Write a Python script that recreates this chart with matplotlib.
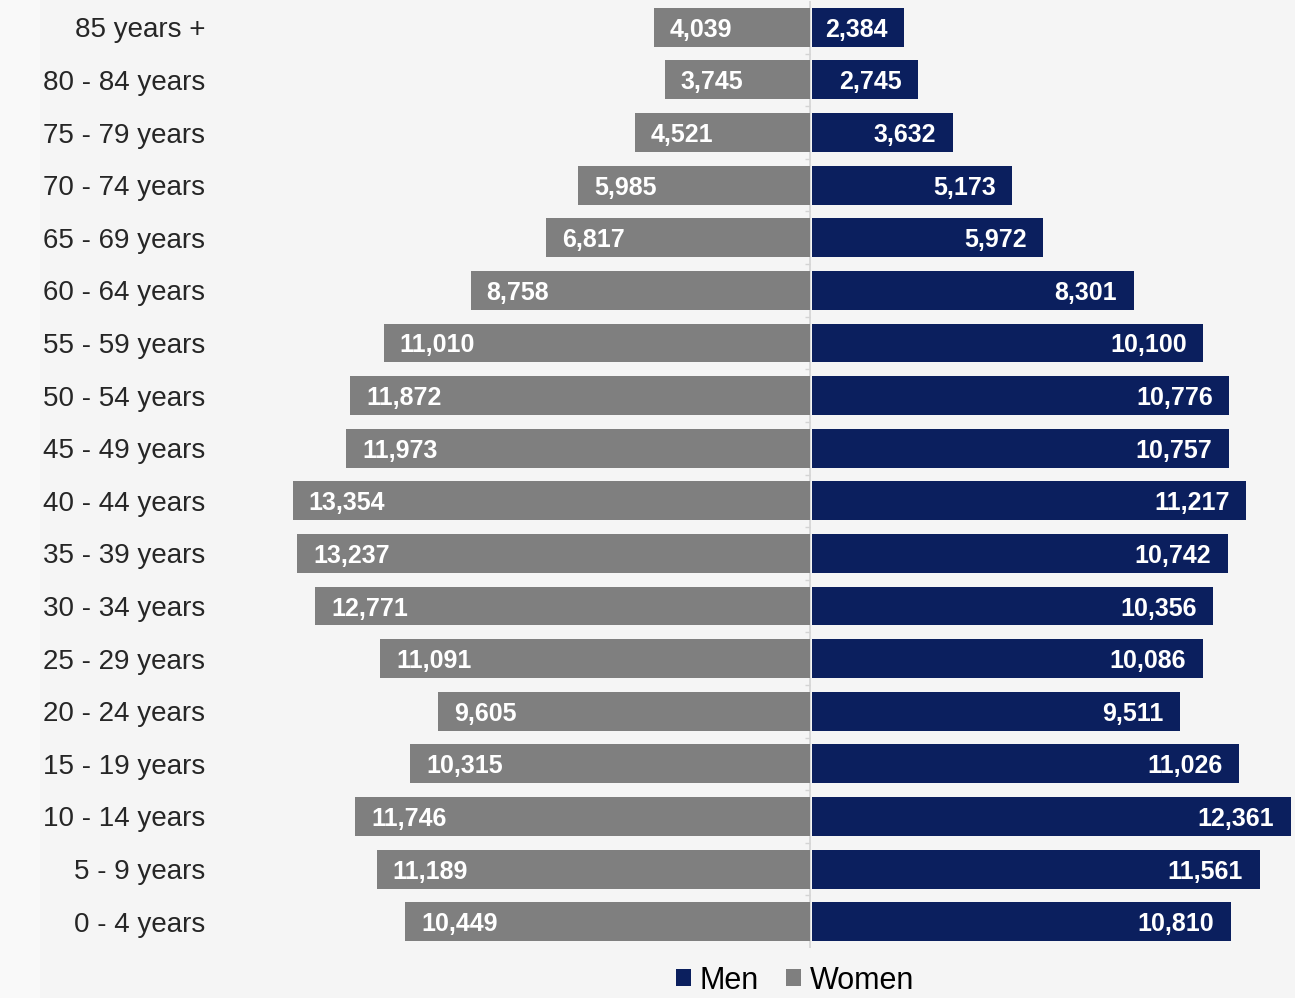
import numpy as np
import matplotlib.pyplot as plt
from matplotlib.patches import Patch, Rectangle

plt.rcParams['font.family'] = ['Liberation Sans', 'DejaVu Sans']

ages = ['0 - 4 years', '5 - 9 years', '10 - 14 years', '15 - 19 years',
        '20 - 24 years', '25 - 29 years', '30 - 34 years', '35 - 39 years',
        '40 - 44 years', '45 - 49 years', '50 - 54 years', '55 - 59 years',
        '60 - 64 years', '65 - 69 years', '70 - 74 years', '75 - 79 years',
        '80 - 84 years', '85 years +']
women = [10449, 11189, 11746, 10315, 9605, 11091, 12771, 13237, 13354,
         11973, 11872, 11010, 8758, 6817, 5985, 4521, 3745, 4039]
men = [10810, 11561, 12361, 11026, 9511, 10086, 10356, 10742, 11217,
       10757, 10776, 10100, 8301, 5972, 5173, 3632, 2745, 2384]

grey = '#7f7f7f'
navy = '#0b1f5e'
bg = '#f5f5f5'

W, H = 1295, 998
fig = plt.figure(figsize=(W / 100, H / 100), dpi=100, facecolor=bg)
fig.patches.append(Rectangle((0, 0), 40 / W, 1, transform=fig.transFigure,
                             facecolor='#f9f9f9', edgecolor='none', zorder=-1))

ax = fig.add_axes([215 / W, 50 / H, 1080 / W, 947 / H])
ax.set_facecolor(bg)

y = np.arange(len(ages))
ax.barh(y, [-v for v in women], height=0.74, color=grey, zorder=2)
ax.barh(y, men, left=50, height=0.74, color=navy, zorder=2)

# centre line with small ticks between age groups
ax.axvline(0, color='#d4d4d4', lw=1.2, zorder=1)
ax.hlines(y[:-1] + 0.5, -140, 0, color='#d4d4d4', lw=1, zorder=1)

for i in y:
    ax.annotate(f'{women[i]:,}', (-women[i], i), xytext=(11.5, 0),
                textcoords='offset points', ha='left', va='center_baseline',
                color='white', fontsize=18, fontweight='bold', zorder=3)
    ax.annotate(f'{men[i]:,}', (men[i] + 50, i), xytext=(-12, 0),
                textcoords='offset points', ha='right', va='center_baseline',
                color='white', fontsize=18, fontweight='bold', zorder=3)

ax.set_xlim(-15360, 12520)
ax.set_ylim(-0.5, len(ages) - 0.5)
ax.set_yticks(y)
ax.set_yticklabels(ages, fontsize=20, color='#262626')
ax.tick_params(axis='y', length=0, pad=7)
ax.set_xticks([])
for s in ax.spines.values():
    s.set_visible(False)

handles = [Patch(facecolor=navy, label='Men'), Patch(facecolor=grey, label='Women')]
fig.legend(handles=handles, loc='center', bbox_to_anchor=(795 / W, 0.0175),
           ncol=2, frameon=False, fontsize=22, handlelength=0.5,
           handleheight=0.5, handletextpad=0.26, columnspacing=0.9,
           borderpad=0.1)

fig.savefig('out.png', dpi=100, facecolor=bg)
